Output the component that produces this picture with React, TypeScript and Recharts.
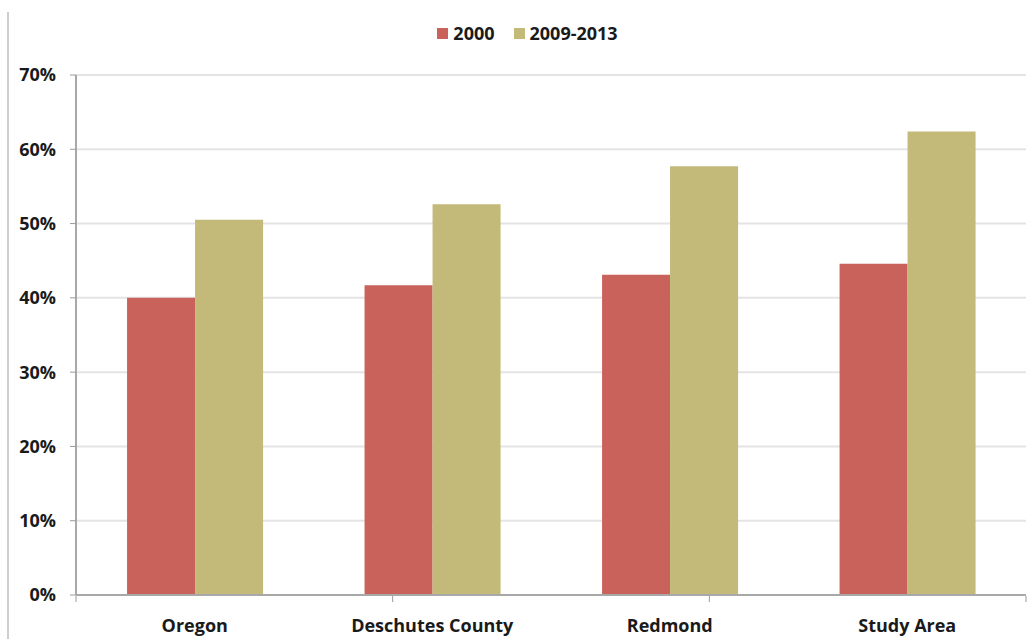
import { Bar, BarChart, CartesianGrid, Legend, XAxis, YAxis } from 'recharts'

const places = ['Oregon', 'Deschutes County', 'Redmond', 'Study Area']
const share2000 = [40.0, 41.7, 43.1, 44.6]
const share2009to2013 = [50.5, 52.6, 57.7, 62.4]
const yTicks = [0, 10, 20, 30, 40, 50, 60, 70]
const boundaryTicks = [0, 1, 2, 3, 4]

const RED = '#c9625a'
const TAN = '#c3b978'
const FONT = '"Open Sans", sans-serif'

const data = places.map((place, i) => ({
  place,
  y2000: share2000[i],
  y2009: share2009to2013[i],
}))

function LegendRow() {
  const item = (color: string, label: string, gapAfter: number) => (
    <span style={{ display: 'inline-flex', alignItems: 'center', gap: 5, marginRight: gapAfter }}>
      <span style={{ width: 11, height: 11, background: color, display: 'inline-block' }} />
      {label}
    </span>
  )
  return (
    <div
      style={{
        fontFamily: FONT,
        fontWeight: 700,
        fontSize: 18,
        color: '#1a1a1a',
        display: 'flex',
        justifyContent: 'center',
        paddingLeft: 22,
      }}
    >
      {item(RED, '2000', 19)}
      {item(TAN, '2009-2013', 0)}
    </div>
  )
}

export default function App() {
  return (
    <div style={{ position: 'absolute', left: 0, top: 0, width: 1033, height: 639, background: '#fff' }}>
      {/* frame edge on the left */}
      <div style={{ position: 'absolute', left: 7, top: 12, width: 2, height: 627, background: '#cfcfcf' }} />
      <BarChart
        width={1033}
        height={639}
        data={data}
        margin={{ top: 51, right: 7, bottom: 42, left: 0 }}
        barCategoryGap="21.5%"
        barGap={0}
      >
        <CartesianGrid vertical={false} stroke="#e4e4e4" strokeWidth={2} />
        {/* both x axes sit on the plot's bottom edge: one for labels, one for the band-edge ticks */}
        <XAxis
          dataKey="place"
          height={1}
          tickLine={false}
          axisLine={{ stroke: '#a8a8a8', strokeWidth: 2 }}
          tickMargin={18}
          tick={{ fill: '#1a1a1a', fontSize: 18, fontWeight: 700, fontFamily: FONT }}
        />
        <XAxis
          xAxisId="edges"
          type="number"
          domain={[0, 4]}
          allowDataOverflow
          ticks={boundaryTicks}
          tickFormatter={() => ''}
          axisLine={false}
          tickLine={{ stroke: '#9a9a9a' }}
          tickSize={6}
          height={1}
        />
        <YAxis
          width={76}
          domain={[0, 70]}
          ticks={yTicks}
          tickFormatter={(v: number) => `${v}%`}
          axisLine={{ stroke: '#a8a8a8', strokeWidth: 2 }}
          tickLine={{ stroke: '#9a9a9a' }}
          tickSize={6}
          tickMargin={14}
          tick={{ fill: '#1a1a1a', fontSize: 18, fontWeight: 700, fontFamily: FONT }}
        />
        <Legend
          verticalAlign="top"
          content={<LegendRow />}
          wrapperStyle={{ top: 21, left: 0, width: 1033 }}
        />
        <Bar dataKey="y2000" name="2000" fill={RED} isAnimationActive={false} />
        <Bar dataKey="y2009" name="2009-2013" fill={TAN} isAnimationActive={false} />
      </BarChart>
    </div>
  )
}
